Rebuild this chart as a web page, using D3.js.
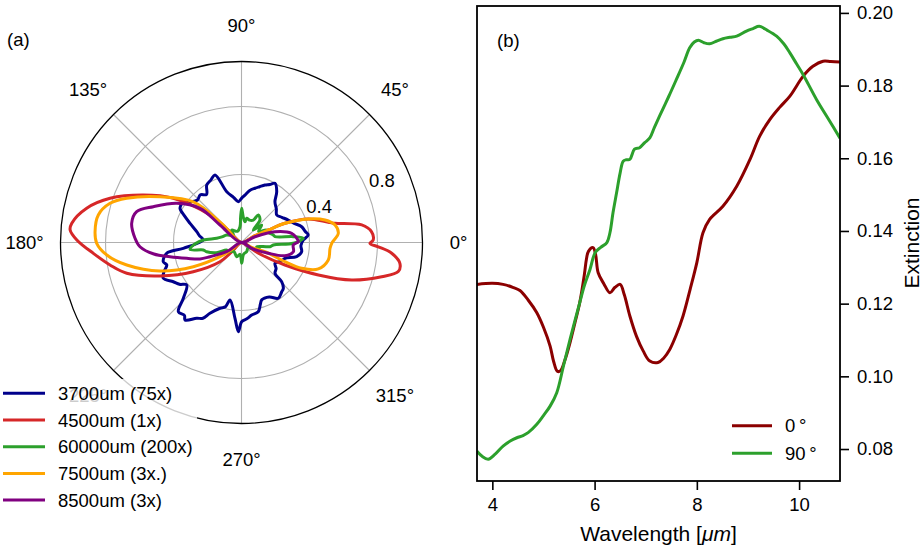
<!DOCTYPE html>
<html>
<head>
<meta charset="utf-8">
<script src="https://cdn.jsdelivr.net/npm/d3@7"></script>
<style>
  body { margin: 0; background: #fff; }
  text { font-family: "Liberation Sans", Arial, Helvetica, sans-serif; fill: #000; }
</style>
</head>
<body>
<svg id="fig" width="923" height="549"></svg>
<script>
// ---------- (a) angular scattering patterns: angle in degrees, radius ----------
const theta3700 = [-174.3,-171.8,-166.2,-163.3,-159,-155.4,-150.1,-146,-142.2,-136.2,-132.4,-128,-126.1,-120.6,-117,-114,-108.1,-104,-101.3,-94.9,-92,-89.9,-86,-82,-76.4,-73,-70.6,-63,-56.6,-51,-47.6,-44.3,-42.6,-37,-31.8,-25,-20,-14.4,-8.7,-3,2.3,6.4,10,14.7,20,25.7,32,38,44,50.6,55.3,60.5,64,67.8,72,76,81,85.8,90,94.5,100,106.2,111.4,116,121.2,126,131,136,141.6,143.9,147,150.9,155,159.6,166.4,171,176.3];
const r3700     = [0.344,0.445,0.474,0.459,0.49,0.506,0.463,0.44,0.408,0.474,0.551,0.545,0.564,0.518,0.5,0.456,0.407,0.39,0.345,0.448,0.525,0.466,0.45,0.431,0.419,0.38,0.358,0.36,0.393,0.375,0.365,0.33,0.268,0.255,0.232,0.26,0.272,0.335,0.358,0.35,0.364,0.395,0.38,0.366,0.33,0.305,0.28,0.263,0.285,0.31,0.364,0.4,0.38,0.365,0.345,0.329,0.31,0.28,0.26,0.241,0.27,0.311,0.427,0.41,0.395,0.35,0.371,0.36,0.387,0.424,0.42,0.414,0.37,0.323,0.271,0.25,0.225];

const theta4500 = [-31.7,-27.4,-22.9,-18.8,-13.7,-10.5,-7.5,-4.1,-1.8,-0.4,1.1,4.7,8.3,11.6,13.1,19.4,23.8,25,27,80,137,138.9,147,154.2,161.4,167.5,173.5,175.8,179.1,184.2,189.7,195,202.3,211.2,221.8,224,270,328];
const r4500     = [0.14,0.288,0.491,0.685,0.849,0.938,0.94,0.886,0.805,0.756,0.775,0.768,0.715,0.562,0.524,0.417,0.28,0.174,0.08,0,0.1,0.246,0.478,0.642,0.816,0.933,1.005,1.011,0.969,0.874,0.785,0.699,0.518,0.332,0.17,0.08,0,0.06];

const theta60000 = [-172.2,-168.9,-165.2,-158,-153.1,-148.1,-130,-108.7,-97,-89.4,-80,-60.5,-40,-22,-15.4,-8.4,-4.5,-0.9,3.9,6.4,10,13.3,20,26.4,33,40.9,46.6,50.6,58.6,62.3,70,77.9,80.4,86,89.7,92,95.4,110,128,137.5,153.1,164,170.4,176.3,-178.7];
const r60000     = [0.305,0.229,0.212,0.16,0.098,0.102,0.07,0.088,0.07,0.122,0.07,0.062,0.05,0.117,0.093,0.17,0.188,0.305,0.364,0.307,0.2,0.192,0.17,0.165,0.12,0.157,0.101,0.171,0.19,0.149,0.14,0.146,0.124,0.15,0.201,0.15,0.093,0.07,0.093,0.065,0.098,0.12,0.148,0.225,0.27];

const theta7500 = [-21.4,-23.8,-23.2,-19,-11.4,-3.8,-0.5,5.4,10.6,15.1,19.4,23.8,25,27,80,136,139.8,150.7,158.9,163.4,169.1,175.8,180.3,185.3,191.1,199.3,206.7,213.4,216,270,335];
const r7500     = [0.149,0.28,0.385,0.478,0.521,0.522,0.531,0.572,0.56,0.509,0.417,0.28,0.174,0.08,0,0.15,0.371,0.55,0.724,0.807,0.858,0.864,0.852,0.796,0.688,0.508,0.317,0.152,0.07,0,0.07];

const theta8500 = [-29.6,-21.9,-16.9,-10.1,-2.8,0.8,4.4,10.4,17.9,23.3,80,140.9,140.5,148.8,157.9,163.6,170.1,177.7,182.4,187.5,191.2,196.1,201.7,204.3,211.9,270];
const r8500     = [0.07,0.17,0.267,0.31,0.305,0.334,0.326,0.3,0.207,0.086,0,0.163,0.316,0.445,0.56,0.643,0.656,0.627,0.598,0.52,0.429,0.335,0.263,0.203,0.1,0];

const polarLabels = ["3700um (75x)", "4500um (1x)", "60000um (200x)", "7500um (3x.)", "8500um (3x)"];
const polarColors = ["#00008b", "#d62728", "#2ca02c", "#ffa500", "#800080"];
const polarThetas = [theta3700, theta4500, theta60000, theta7500, theta8500];
const polarRadii  = [r3700, r4500, r60000, r7500, r8500];

const rTicks = [0.4, 0.8];
const angleTicks = [0, 45, 90, 135, 180, 225, 270, 315];

// ---------- (b) extinction spectra ----------
const wl0   = [3.70,4.00,4.21,4.40,4.54,4.70,4.87,5.00,5.13,5.20,5.27,5.33,5.42,5.52,5.62,5.71,5.80,5.84,5.88,5.97,6.02,6.07,6.18,6.30,6.40,6.50,6.58,6.69,6.82,6.95,7.08,7.24,7.35,7.47,7.60,7.73,7.87,8.00,8.12,8.25,8.51,8.78,9.04,9.23,9.43,9.62,9.82,10.08,10.27,10.47,10.62,10.80];
const ext0  = [0.1253,0.1256,0.1253,0.1245,0.1236,0.121,0.1175,0.1135,0.1083,0.104,0.1014,0.1015,0.1045,0.1093,0.115,0.1203,0.128,0.1322,0.1344,0.1354,0.1335,0.1285,0.1255,0.123,0.1245,0.1253,0.1225,0.1166,0.111,0.107,0.1042,0.1038,0.105,0.1074,0.1115,0.1166,0.124,0.1313,0.1395,0.1432,0.1468,0.1523,0.1597,0.1661,0.1707,0.174,0.1771,0.1826,0.1853,0.1867,0.1866,0.1865];
const wl90  = [3.70,3.80,3.92,4.05,4.21,4.35,4.48,4.60,4.70,4.87,5.00,5.13,5.26,5.39,5.52,5.71,5.80,5.91,6.01,6.12,6.24,6.30,6.36,6.43,6.50,6.56,6.62,6.69,6.78,6.88,6.98,7.08,7.17,7.27,7.45,7.60,7.75,7.86,7.95,8.03,8.14,8.25,8.38,8.51,8.65,8.78,8.97,9.10,9.22,9.38,9.56,9.70,9.82,9.95,10.08,10.34,10.60,10.80];
const ext90 = [0.0794,0.078,0.0772,0.0785,0.0808,0.0822,0.0831,0.0837,0.0845,0.0868,0.0892,0.0918,0.0955,0.1028,0.1102,0.1203,0.125,0.1294,0.134,0.1355,0.1368,0.1395,0.145,0.1505,0.156,0.1592,0.1596,0.1597,0.1625,0.1629,0.1643,0.1656,0.1685,0.1716,0.177,0.1817,0.1865,0.1904,0.192,0.1925,0.1918,0.1915,0.1922,0.1929,0.1933,0.1936,0.195,0.1957,0.1963,0.1952,0.1936,0.1915,0.189,0.186,0.183,0.1762,0.1702,0.1655];
const specLabels = ["0\u2009°", "90\u2009°"];
const specColors = ["#8b0000", "#2ca02c"];
const xTicks = [4, 6, 8, 10];
const yTicks = [0.08, 0.10, 0.12, 0.14, 0.16, 0.18, 0.20];

const svg = d3.select("#fig");
const FS = 18.5;   // tick / legend text
const FT = 21;     // axis titles

// ===================== panel (a): polar plot =====================
const cx = 241.5, cy = 242.5, R = 181;
const rScale = d3.scaleLinear().domain([0, 1.065]).range([0, R]);
const toRad = d => d * Math.PI / 180;
const gP = svg.append("g").attr("transform", `translate(${cx},${cy})`);

// grid rings
gP.selectAll("circle.ring").data(rTicks).join("circle")
  .attr("r", d => rScale(d)).attr("fill", "none")
  .attr("stroke", "#b0b0b0").attr("stroke-width", 1.1);
// spokes
gP.selectAll("line.spoke").data(angleTicks).join("line")
  .attr("x1", 0).attr("y1", 0)
  .attr("x2", d => R * Math.cos(toRad(d)))
  .attr("y2", d => -R * Math.sin(toRad(d)))
  .attr("stroke", "#b0b0b0").attr("stroke-width", 1.1);
// outer frame
gP.append("circle").attr("r", R).attr("fill", "none")
  .attr("stroke", "#000").attr("stroke-width", 1.3);

// angle labels
gP.selectAll("text.ang").data(angleTicks).join("text")
  .attr("x", d => 217 * Math.cos(toRad(d)))
  .attr("y", d => -217 * Math.sin(toRad(d)))
  .attr("text-anchor", "middle").attr("dominant-baseline", "central")
  .attr("font-size", FS).text(d => d + "°");

// radial labels along 22.5°
gP.selectAll("text.rl").data(rTicks).join("text")
  .attr("x", d => rScale(d) * Math.cos(toRad(22.5)) + 2)
  .attr("y", d => -rScale(d) * Math.sin(toRad(22.5)) - 3.5)
  .attr("font-size", FS).text(d => d.toFixed(1));

// curves
const radial = d3.lineRadial()
  .angle(d => toRad(90 - d[0]))
  .radius(d => rScale(d[1]))
  .curve(d3.curveCatmullRomClosed.alpha(0.5));

polarThetas.forEach((th, i) => {
  const pts = th.map((t, j) => [t, polarRadii[i][j]]);
  gP.append("path").attr("d", radial(pts))
    .attr("fill", "none").attr("stroke", polarColors[i])
    .attr("stroke-width", 3).attr("stroke-linejoin", "round");
});

// legend for (a)
const lg = svg.append("g");
lg.append("rect").attr("x", 0).attr("y", 379).attr("width", 197).attr("height", 134)
  .attr("fill", "#fff").attr("fill-opacity", 0.8);
polarLabels.forEach((lab, i) => {
  const y = 393.3 + i * 26.7;
  lg.append("line").attr("x1", 3).attr("x2", 45).attr("y1", y).attr("y2", y)
    .attr("stroke", polarColors[i]).attr("stroke-width", 3);
  lg.append("text").attr("x", 58).attr("y", y).attr("dominant-baseline", "central")
    .attr("font-size", FS).text(lab);
});

svg.append("text").attr("x", 7).attr("y", 46).attr("font-size", FS).text("(a)");

// ===================== panel (b): extinction spectra =====================
const L = 477, Rr = 840, T = 6, B = 481;
const x = d3.scaleLinear().domain([3.7, 10.8]).range([L, Rr]);
const y = d3.scaleLinear().domain([0.0712, 0.2019]).range([B, T]);

svg.append("defs").append("clipPath").attr("id", "plotclip")
  .append("rect").attr("x", L).attr("y", T).attr("width", Rr - L).attr("height", B - T);

const line = d3.line().x(d => x(d[0])).y(d => y(d[1])).curve(d3.curveCatmullRom.alpha(0.5));
const series = [[wl0, ext0], [wl90, ext90]];
const gL = svg.append("g").attr("clip-path", "url(#plotclip)");
series.forEach(([xs, ys], i) => {
  gL.append("path").attr("d", line(xs.map((v, j) => [v, ys[j]])))
    .attr("fill", "none").attr("stroke", specColors[i]).attr("stroke-width", 3)
    .attr("stroke-linejoin", "round");
});

// axes
const xAxis = d3.axisBottom(x).tickValues(xTicks).tickFormat(d3.format("d")).tickSize(9).tickPadding(8);
const yAxis = d3.axisRight(y).tickValues(yTicks).tickFormat(d3.format(".2f")).tickSize(9).tickPadding(8);
const gx = svg.append("g").attr("transform", `translate(0,${B})`).call(xAxis);
const gy = svg.append("g").attr("transform", `translate(${Rr},0)`).call(yAxis);
[gx, gy].forEach(g => {
  g.select(".domain").remove();
  g.selectAll(".tick line").attr("stroke", "#000").attr("stroke-width", 1.6);
  g.selectAll(".tick text").attr("font-size", FS).attr("fill", "#000")
    .style("font-family", '"Liberation Sans", Arial, sans-serif');
});
svg.append("rect").attr("x", L).attr("y", T).attr("width", Rr - L).attr("height", B - T)
  .attr("fill", "none").attr("stroke", "#000").attr("stroke-width", 1.8);

// axis titles
const xt = svg.append("text").attr("x", (L + Rr) / 2).attr("y", 541)
  .attr("text-anchor", "middle").attr("font-size", FT);
xt.append("tspan").text("Wavelength [");
xt.append("tspan").attr("font-style", "italic").text("\u03bcm");
xt.append("tspan").text("]");
svg.append("text").attr("transform", "translate(919,243) rotate(-90)")
  .attr("text-anchor", "middle").attr("font-size", FT).text("Extinction");

// legend for (b)
specLabels.forEach((lab, i) => {
  const yy = 425.7 + i * 27.6;
  svg.append("line").attr("x1", 732).attr("x2", 772).attr("y1", yy).attr("y2", yy)
    .attr("stroke", specColors[i]).attr("stroke-width", 3);
  svg.append("text").attr("x", 785).attr("y", yy).attr("dominant-baseline", "central")
    .attr("font-size", FS).text(lab);
});

svg.append("text").attr("x", 497).attr("y", 47).attr("font-size", FS).text("(b)");
</script>
</body>
</html>
